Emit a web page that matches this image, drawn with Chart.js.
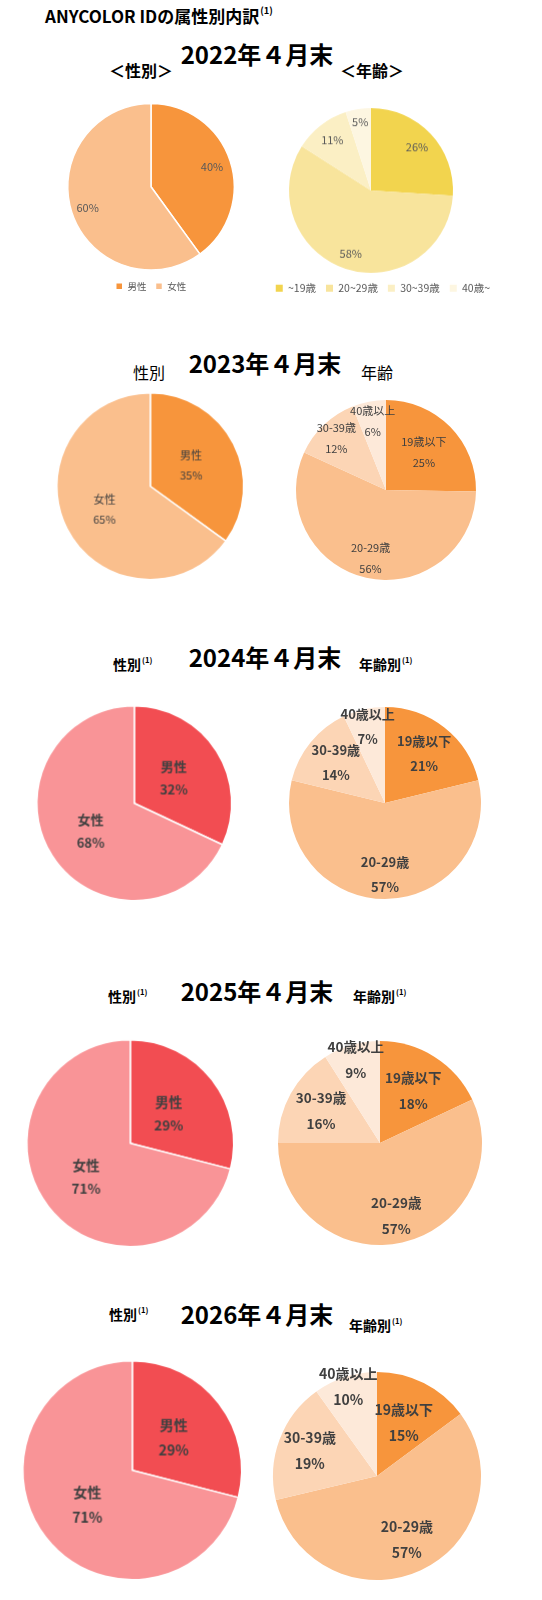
<!DOCTYPE html>
<html lang="ja">
<head>
<meta charset="utf-8">
<title>ANYCOLOR IDの属性別内訳</title>
<script src="https://cdn.jsdelivr.net/npm/chart.js@4.4.1/dist/chart.umd.min.js"></script>
<style>
  html, body { margin: 0; padding: 0; background: #fff; width: 542px; height: 1600px; overflow: hidden; }
  #page { position: relative; width: 542px; height: 1600px; font-family: "Noto Sans CJK JP", sans-serif; color: #000; overflow: hidden; }
  .txt { position: absolute; white-space: nowrap; line-height: 1; }
  .c { transform: translate(-50%, -50%); }
  .l { transform: translateY(-50%); }
  .box { position: absolute; }
  .big { font-size: 24px; font-weight: 700; }
  .sub { font-size: 14px; font-weight: 700; }
  sup { font-size: 0.55em; vertical-align: top; position: relative; top: -0.15em; margin-left: 1px; }
</style>
</head>
<body>
<div id="page">
  <div class="txt" style="left:45px;top:7px;font-size:17px;font-weight:700">ANYCOLOR IDの属性別内訳<sup>(1)</sup></div>

  <div class="txt c big" style="left:257px;top:54px" id="t0"></div>
  <div class="txt c" style="left:141px;top:70px;font-size:16px;font-weight:700">＜性別＞</div>
  <div class="txt c" style="left:372px;top:70px;font-size:16px;font-weight:700">＜年齢＞</div>

  <div class="txt c big" style="left:265px;top:363px" id="t1"></div>
  <div class="txt c" style="left:149px;top:372px;font-size:16px">性別</div>
  <div class="txt c" style="left:377px;top:372px;font-size:16px">年齢</div>

  <div class="txt c big" style="left:265px;top:657px" id="t2"></div>
  <div class="txt l sub" style="left:113px;top:664px">性別<sup>(1)</sup></div>
  <div class="txt l sub" style="left:359px;top:664px">年齢別<sup>(1)</sup></div>

  <div class="txt c big" style="left:257px;top:991px" id="t3"></div>
  <div class="txt l sub" style="left:108px;top:996px">性別<sup>(1)</sup></div>
  <div class="txt l sub" style="left:353px;top:996px">年齢別<sup>(1)</sup></div>

  <div class="txt c big" style="left:257px;top:1314px" id="t4"></div>
  <div class="txt l sub" style="left:109px;top:1314px">性別<sup>(1)</sup></div>
  <div class="txt l sub" style="left:349px;top:1325px">年齢別<sup>(1)</sup></div>
</div>

<script>
// values (percent)
const periods = ['2022年４月末', '2023年４月末', '2024年４月末', '2025年４月末', '2026年４月末'];
const genderLabels = ['男性', '女性'];
const ageLabels = ['19歳以下', '20-29歳', '30-39歳', '40歳以上'];
const ageLabels2022 = ['~19歳', '20~29歳', '30~39歳', '40歳~'];
const malePct = [40, 35, 32, 29, 29];
const femalePct = [60, 65, 68, 71, 71];
const age19 = [26, 25, 21, 18, 15];
const age20s = [58, 56, 57, 57, 57];
const age30s = [11, 12, 14, 16, 19];
const age40 = [5, 6, 7, 9, 10];

const orangeSet = ['#F7953C', '#FABF8D', '#FCD5B5', '#FDE9D9'];
const yellowSet = ['#F2D44E', '#F8E49C', '#FBEFC4', '#FDF6E1'];
const redSet = ['#F24D52', '#F99497'];

const FONT = '"Noto Sans CJK JP", sans-serif';
const PAD = 16; // room round each pie for labels sitting near the edge
const page = document.getElementById('page');

periods.forEach(function (p, i) {
  document.getElementById('t' + i).textContent = p;
});

// draws "name / xx%" inside each slice
const sliceLabels = {
  id: 'sliceLabels',
  afterDatasetsDraw(chart, args, opts) {
    const ctx = chart.ctx;
    const meta = chart.getDatasetMeta(0);
    const values = chart.data.datasets[0].data;
    ctx.save();
    ctx.fillStyle = opts.color;
    ctx.font = opts.font;
    ctx.textAlign = 'center';
    ctx.textBaseline = 'middle';
    meta.data.forEach(function (arc, i) {
      const mid = (arc.startAngle + arc.endAngle) / 2;
      const dist = arc.outerRadius * opts.radius[i];
      const x = arc.x + Math.cos(mid) * dist;
      const y = arc.y + Math.sin(mid) * dist;
      const lines = opts.showName ? [chart.data.labels[i], values[i] + '%'] : [values[i] + '%'];
      lines.forEach(function (t, k) {
        ctx.fillText(t, x, y + (k - (lines.length - 1) / 2) * opts.lineGap);
      });
    });
    ctx.restore();
  }
};

function addPie(o) {
  const bw = o.borderWidth;
  const diam = 2 * o.r + bw;
  const lg = o.legend;
  // legend box height as chart.js computes it: item height + padding + 10
  const legendH = lg ? lg.size + lg.padding + 10 : 0;
  const width = o.width || diam + 2 * PAD;
  const height = lg ? diam + PAD + legendH : diam + 2 * PAD;
  const wrap = document.createElement('div');
  wrap.className = 'box';
  wrap.style.left = (o.cx - width / 2) + 'px';
  wrap.style.top = (o.cy - diam / 2 - PAD) + 'px';
  wrap.style.width = width + 'px';
  wrap.style.height = height + 'px';
  const cv = document.createElement('canvas');
  wrap.appendChild(cv);
  page.appendChild(wrap);

  return new Chart(cv, {
    type: 'pie',
    data: {
      labels: o.labels,
      datasets: [{
        data: o.values,
        backgroundColor: o.colors,
        borderColor: '#ffffff',
        borderWidth: bw
      }]
    },
    options: {
      responsive: true,
      maintainAspectRatio: false,
      animation: false,
      events: [],
      layout: { padding: lg ? { left: PAD, right: PAD, top: PAD, bottom: 0 } : PAD },
      plugins: {
        tooltip: { enabled: false },
        legend: {
          display: !!lg,
          position: 'bottom',
          align: lg ? lg.align : 'center',
          labels: {
            boxWidth: 7,
            boxHeight: 7,
            padding: lg ? lg.padding : 8,
            color: '#595959',
            font: { family: FONT, size: lg ? lg.size : 10 }
          }
        },
        sliceLabels: {
          font: o.font,
          color: o.textColor || '#404040',
          showName: o.showName,
          lineGap: o.lineGap || 0,
          radius: o.labelRadius
        }
      }
    },
    plugins: [sliceLabels]
  });
}

// 2022
addPie({ cx: 151, cy: 187, r: 85, width: 200, borderWidth: 1.5,
  legend: { size: 9.5, padding: 9, align: 'center' },
  labels: genderLabels, values: [malePct[0], femalePct[0]], colors: orangeSet.slice(0, 2),
  font: '11px ' + FONT, textColor: '#595959', showName: false, labelRadius: [0.77, 0.8] });
addPie({ cx: 371, cy: 190, r: 82, width: 290, borderWidth: 0,
  legend: { size: 10.5, padding: 10, align: 'end' },
  labels: ageLabels2022, values: [age19[0], age20s[0], age30s[0], age40[0]], colors: yellowSet,
  font: '11px ' + FONT, textColor: '#595959', showName: false, labelRadius: [0.77, 0.8, 0.77, 0.84] });

// 2023
addPie({ cx: 150, cy: 486, r: 93, borderWidth: 1.5,
  labels: genderLabels, values: [malePct[1], femalePct[1]], colors: orangeSet.slice(0, 2),
  font: '11px ' + FONT, showName: true, lineGap: 20, labelRadius: [0.49, 0.55] });
addPie({ cx: 386, cy: 490, r: 90, borderWidth: 0,
  labels: ageLabels, values: [age19[1], age20s[1], age30s[1], age40[1]], colors: orangeSet,
  font: '11px ' + FONT, showName: true, lineGap: 21, labelRadius: [0.59, 0.78, 0.8, 0.78] });

// 2024
addPie({ cx: 134, cy: 803, r: 97, borderWidth: 1.5,
  labels: genderLabels, values: [malePct[2], femalePct[2]], colors: redSet,
  font: 'bold 13px ' + FONT, showName: true, lineGap: 23, labelRadius: [0.48, 0.53] });
addPie({ cx: 385, cy: 803, r: 96, borderWidth: 0,
  labels: ageLabels, values: [age19[2], age20s[2], age30s[2], age40[2]], colors: orangeSet,
  font: 'bold 13px ' + FONT, showName: true, lineGap: 25, labelRadius: [0.66, 0.75, 0.66, 0.82] });

// 2025
addPie({ cx: 130, cy: 1143, r: 103, borderWidth: 1.5,
  labels: genderLabels, values: [malePct[3], femalePct[3]], colors: redSet,
  font: 'bold 13.5px ' + FONT, showName: true, lineGap: 23, labelRadius: [0.47, 0.54] });
addPie({ cx: 380, cy: 1143, r: 102, borderWidth: 0,
  labels: ageLabels, values: [age19[3], age20s[3], age30s[3], age40[3]], colors: orangeSet,
  font: 'bold 13.5px ' + FONT, showName: true, lineGap: 26, labelRadius: [0.61, 0.73, 0.66, 0.85] });

// 2026
addPie({ cx: 132, cy: 1470, r: 109, borderWidth: 1.5,
  labels: genderLabels, values: [malePct[4], femalePct[4]], colors: redSet,
  font: 'bold 14px ' + FONT, showName: true, lineGap: 25, labelRadius: [0.48, 0.52] });
addPie({ cx: 377, cy: 1476, r: 104, borderWidth: 0,
  labels: ageLabels, values: [age19[4], age20s[4], age30s[4], age40[4]], colors: orangeSet,
  font: 'bold 14px ' + FONT, showName: true, lineGap: 26, labelRadius: [0.57, 0.68, 0.69, 0.9] });
</script>
</body>
</html>
